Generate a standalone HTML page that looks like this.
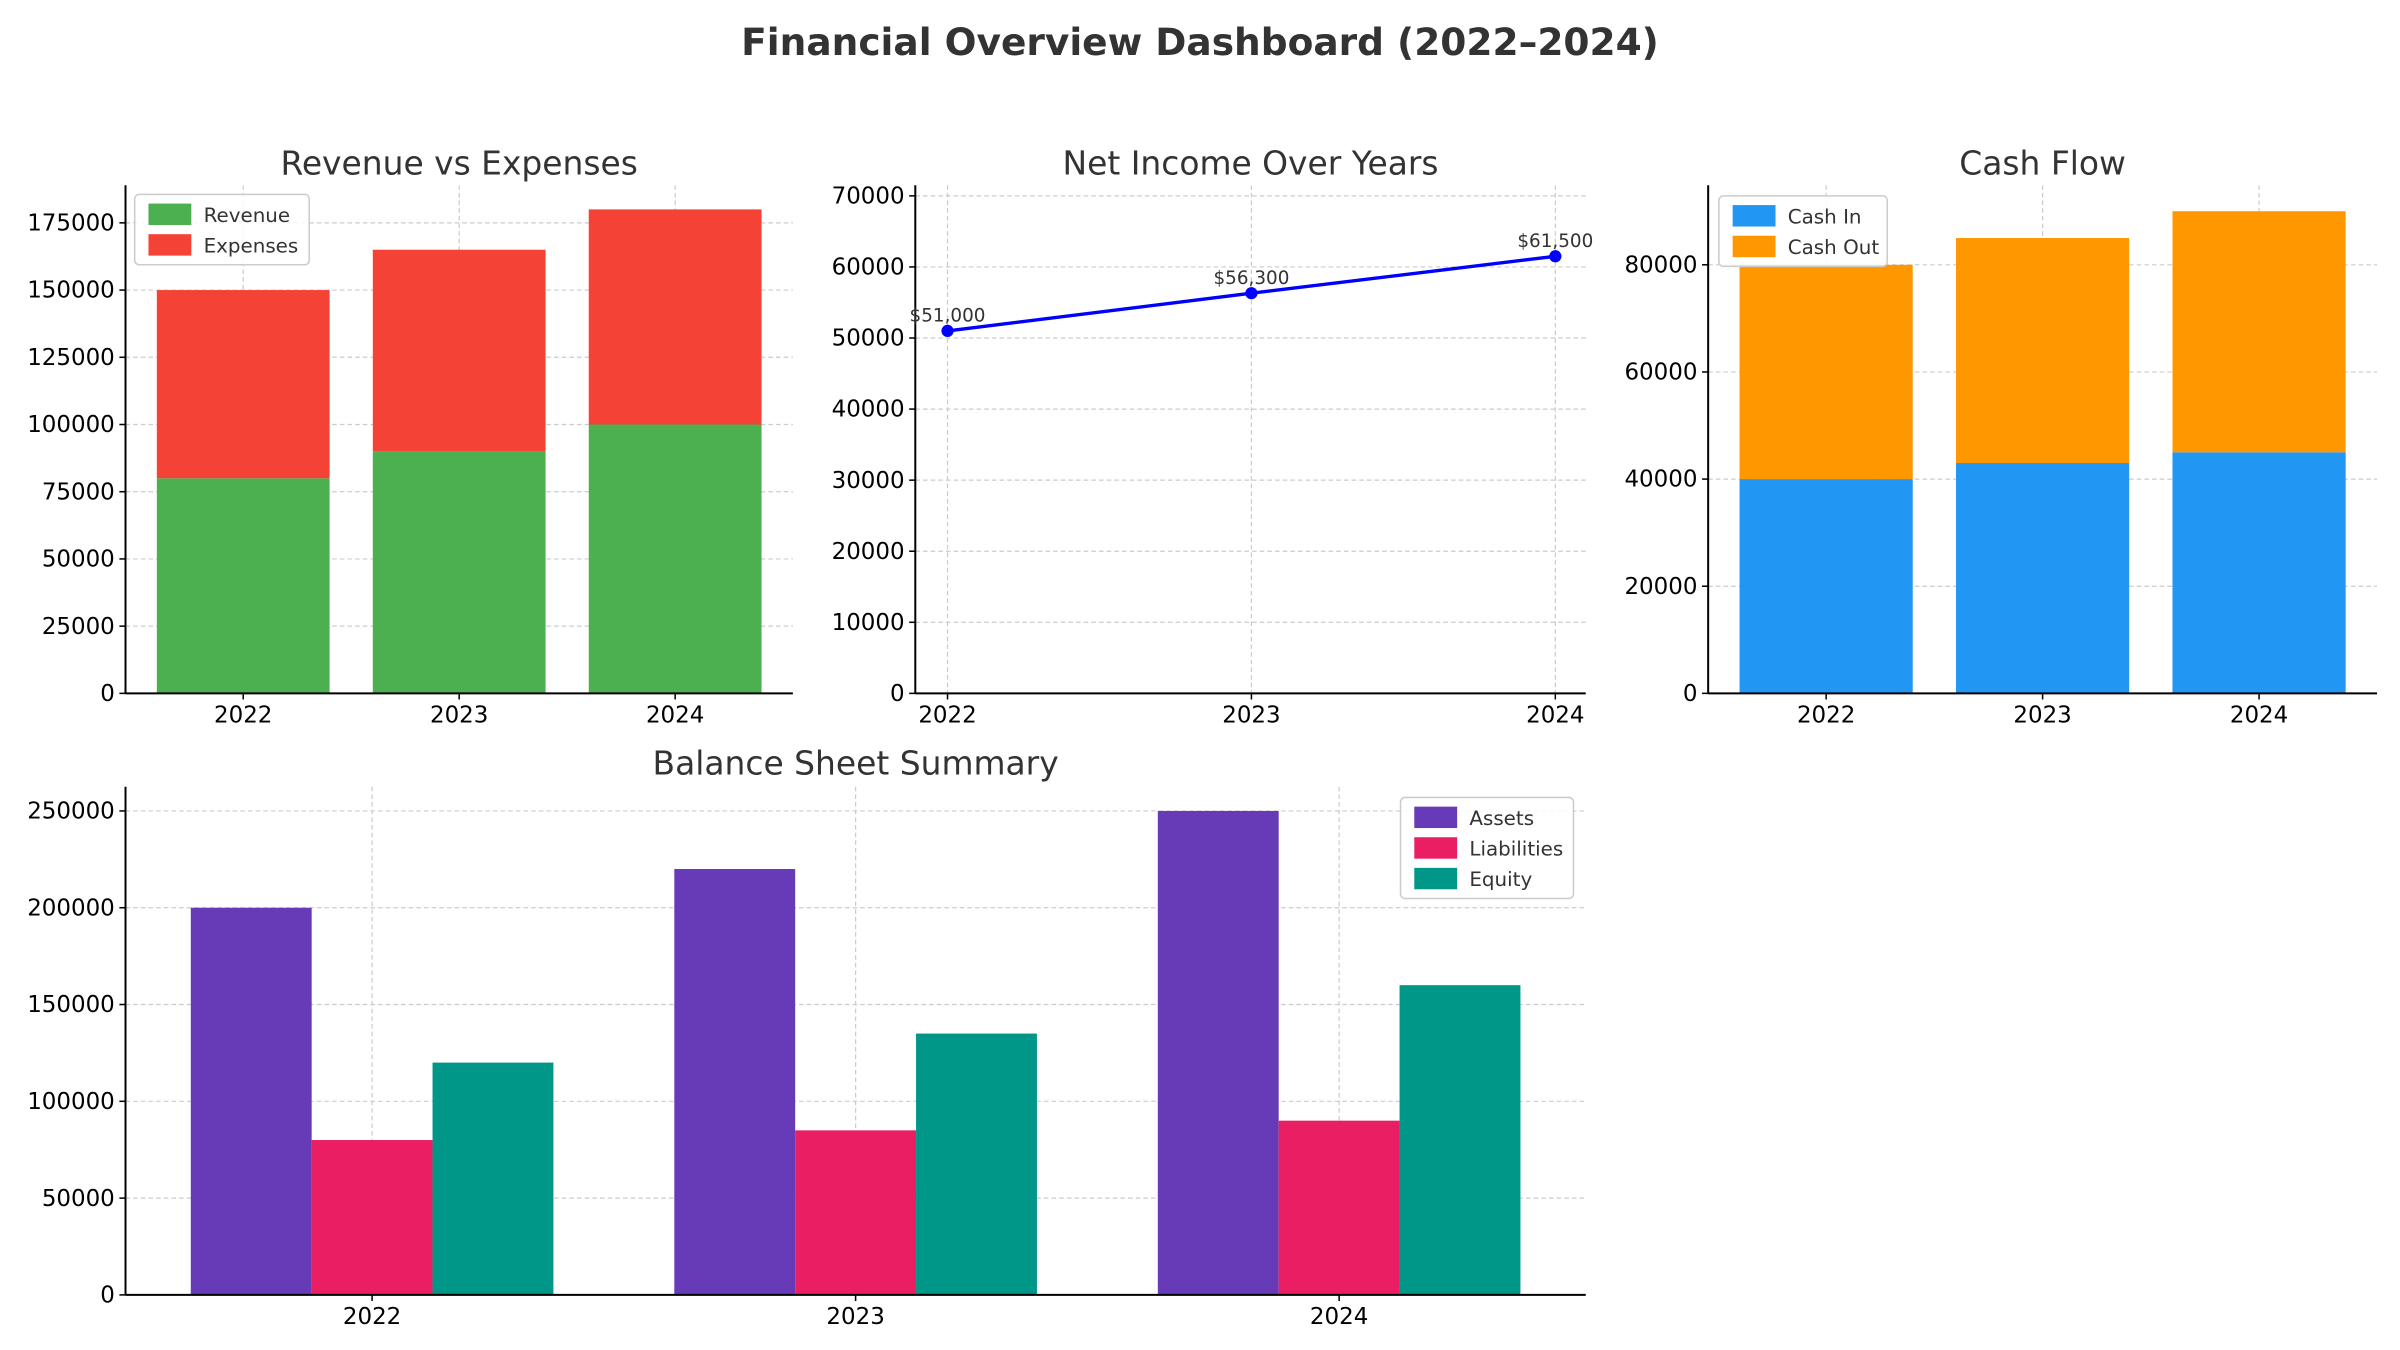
<!DOCTYPE html>
<html><head><meta charset="utf-8"><style>
html,body{margin:0;padding:0;background:#fff}
svg{display:block;font-family:"DejaVu Sans","Liberation Sans",sans-serif}
</style></head><body>
<svg id="chart" width="2400" height="1350" viewBox="0 0 1568 882" xmlns="http://www.w3.org/2000/svg">
<text x="784" y="36" text-anchor="middle" font-size="24.5" font-weight="bold" fill="#333">Financial Overview Dashboard (2022–2024)</text>
</svg>
<script>
const years=["2022","2023","2024"];
const revenue=[80000,90000,100000];
const expenses=[70000,75000,80000];
const netIncome=[51000,56300,61500];
const netLabels=["$51,000","$56,300","$61,500"];
const cashIn=[40000,43000,45000];
const cashOut=[40000,42000,45000];
const assets=[200000,220000,250000];
const liabilities=[80000,85000,90000];
const equity=[120000,135000,160000];
const ticks1=[0,25000,50000,75000,100000,125000,150000,175000];
const ticks2=[0,10000,20000,30000,40000,50000,60000,70000];
const ticks3=[0,20000,40000,60000,80000];
const ticks4=[0,50000,100000,150000,200000,250000];

const svg=document.getElementById('chart');
const NS="http://www.w3.org/2000/svg";
function mk(tag,attrs,parent,txt){const e=document.createElementNS(NS,tag);for(const k in attrs)e.setAttribute(k,attrs[k]);if(txt!==undefined)e.textContent=txt;(parent||svg).appendChild(e);return e;}
function axes(name,x0,x1,y0,y1,xmin,xmax,ymax,yt,title,titleY){
  const g=mk('g',{});
  
  
  const sx=v=>x0+(v-xmin)/(xmax-xmin)*(x1-x0);
  const sy=v=>y1-v/ymax*(y1-y0);
  yt.forEach(t=>{
    const y=sy(t);
    const l=mk('line',{x1:x0,x2:x1,y1:y,y2:y,stroke:'#ccc','stroke-width':0.8,'stroke-dasharray':'3,2'},g);
    
    
    mk('line',{x1:x0-4,x2:x0,y1:y,y2:y,stroke:'#000','stroke-width':1},g);
    const tx=mk('text',{x:x0-7,y:y+5,'text-anchor':'end','font-size':15,fill:'#000'},g,String(t));
    
    
  });
  const tt=mk('text',{x:(x0+x1)/2,y:titleY,'text-anchor':'middle','font-size':21.5,fill:'#333'},g,title);
  
  
  return {g,sx,sy,x0,x1,y0,y1};
}
function xticks(A,vals,labels){
  vals.forEach((v,i)=>{
    const x=A.sx(v);
    const l=mk('line',{x1:x,x2:x,y1:A.y0,y2:A.y1,stroke:'#ccc','stroke-width':0.8,'stroke-dasharray':'3,2'},A.g);
    
    
    mk('line',{x1:x,x2:x,y1:A.y1,y2:A.y1+4,stroke:'#000','stroke-width':1},A.g);
    const t=mk('text',{x:x,y:A.y1+19,'text-anchor':'middle','font-size':15,fill:'#000'},A.g,labels[i]);
    
    
  });
}
function spines(A){
  mk('line',{x1:A.x0,x2:A.x0,y1:A.y0,y2:A.y1,stroke:'#000','stroke-width':1.3},A.g);
  mk('line',{x1:A.x0,x2:A.x1,y1:A.y1,y2:A.y1,stroke:'#000','stroke-width':1.3},A.g);
}
function bar(A,name,xc,w,v0,v1,color){
  const x=A.sx(xc-w/2),x2=A.sx(xc+w/2);
  const r=mk('rect',{x:x,y:A.sy(v1),width:x2-x,height:A.sy(v0)-A.sy(v1),fill:color},A.g);
  
  
}
function legend(A,x,y,w,items){
  const lg=mk('g',{},A.g);
  
  
  mk('rect',{x:x,y:y,width:w,height:items.length*20+6,rx:3,fill:'#fff','fill-opacity':0.85,stroke:'#ccc','stroke-width':1},lg);
  items.forEach((it,i)=>{
    const e=mk('g',{},lg);
    
    
    mk('rect',{x:x+9,y:y+6+i*20,width:28,height:14,fill:it[1]},e);
    mk('text',{x:x+45,y:y+18+i*20,'font-size':13,fill:'#333'},e,it[0]);
  });
}
const idx=[0,1,2];

// Chart 1
const A1=axes('revenue-expenses-chart',82,518,121,453,-0.545,2.545,189000,ticks1,'Revenue vs Expenses',114);
xticks(A1,idx,years);
idx.forEach(i=>{bar(A1,'bar-revenue-'+years[i],i,0.8,0,revenue[i],'#4caf50');bar(A1,'bar-expenses-'+years[i],i,0.8,revenue[i],revenue[i]+expenses[i],'#f44336');});
spines(A1);
legend(A1,88,127,114,[['Revenue','#4caf50'],['Expenses','#f44336']]);

// Chart 2
const A2=axes('net-income-chart',598,1036,121,453,-0.106,2.1,71500,ticks2,'Net Income Over Years',114);
xticks(A2,idx,years);
spines(A2);
const pts=idx.map(i=>A2.sx(i)+','+A2.sy(netIncome[i])).join(' ');
const pl=mk('polyline',{points:pts,fill:'none',stroke:'#0000ff','stroke-width':2.2},A2.g);


idx.forEach(i=>{
  const c=mk('circle',{cx:A2.sx(i),cy:A2.sy(netIncome[i]),r:4,fill:'#0000ff'},A2.g);
  
  
  const t=mk('text',{x:A2.sx(i),y:A2.sy(netIncome[i])-6,'text-anchor':'middle','font-size':12,fill:'#333'},A2.g,netLabels[i]);
  
  
});

// Chart 3
const A3=axes('cash-flow-chart',1116,1553,121,453,-0.545,2.545,94860,ticks3,'Cash Flow',114);
xticks(A3,idx,years);
idx.forEach(i=>{bar(A3,'bar-cash-in-'+years[i],i,0.8,0,cashIn[i],'#2196f3');bar(A3,'bar-cash-out-'+years[i],i,0.8,cashIn[i],cashIn[i]+cashOut[i],'#ff9800');});
spines(A3);
legend(A3,1123,128,110,[['Cash In','#2196f3'],['Cash Out','#ff9800']]);

// Chart 4
const A4=axes('balance-sheet-chart',82,1036,514,846,-0.51,2.51,262500,ticks4,'Balance Sheet Summary',506);
xticks(A4,idx,years);
const bw=0.25;
idx.forEach(i=>{
  bar(A4,'bar-assets-'+years[i],i-bw,bw,0,assets[i],'#673ab7');
  bar(A4,'bar-liabilities-'+years[i],i,bw,0,liabilities[i],'#e91e63');
  bar(A4,'bar-equity-'+years[i],i+bw,bw,0,equity[i],'#009688');
});
spines(A4);
legend(A4,915,521,113,[['Assets','#673ab7'],['Liabilities','#e91e63'],['Equity','#009688']]);
</script>
</body></html>
